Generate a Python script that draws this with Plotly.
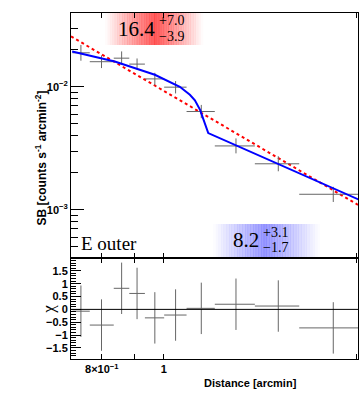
import numpy as np
import plotly.graph_objects as go

# surface brightness profile, E outer sector
dist = [0.742, 0.799, 0.859, 0.908, 0.968, 1.043, 1.144, 1.296, 1.509, 1.839]
bin_lo = [0.720, 0.766, 0.835, 0.883, 0.934, 1.001, 1.085, 1.201, 1.387, 1.627]
bin_hi = [0.766, 0.835, 0.883, 0.934, 1.001, 1.085, 1.201, 1.387, 1.627, 2.080]
sb = [0.0189, 0.0160, 0.0171, 0.0153, 0.0116, 0.00994, 0.0063, 0.00331, 0.00237, 0.00134]
sb_up = [0.0030, 0.0020, 0.0023, 0.0017, 0.0014, 0.0012, 0.00083, 0.00050, 0.00036, 0.00020]
sb_dn = [0.0026, 0.0018, 0.0020, 0.0015, 0.0013, 0.0011, 0.00074, 0.00043, 0.00031, 0.00018]
chi = [-0.07, -0.61, 0.82, 0.62, -0.33, -0.22, 0.04, 0.20, 0.13, -0.72]
chi_err = [1, 1, 1, 1, 1, 1, 1, 1, 1, 1]

# models
pl_x = [0.716, 2.01]
pl_y = [0.0257, 0.00110]
bk_x = [0.719, 0.838, 0.968, 1.022, 1.059, 1.098, 1.118, 1.139, 1.159, 1.173, 2.018]
bk_y = [0.01937, 0.01607, 0.01253, 0.01083, 0.0100, 0.00861, 0.00777, 0.00650, 0.00510, 0.00421, 0.00121]

xerr_p = [h - c for h, c in zip(bin_hi, dist)]
xerr_m = [c - l for c, l in zip(dist, bin_lo)]

pt_col = "#666666"
fig = go.Figure()
fig.add_trace(go.Scatter(x=pl_x, y=pl_y, mode="lines", line=dict(color="red", width=2, dash="dot"),
                         xaxis="x", yaxis="y"))
fig.add_trace(go.Scatter(x=dist, y=sb, mode="markers", marker=dict(size=0.1, color=pt_col),
                         error_x=dict(type="data", array=xerr_p, arrayminus=xerr_m, width=0, thickness=1, color=pt_col),
                         error_y=dict(type="data", array=sb_up, arrayminus=sb_dn, width=0, thickness=1, color=pt_col),
                         xaxis="x", yaxis="y"))
fig.add_trace(go.Scatter(x=bk_x, y=bk_y, mode="lines", line=dict(color="blue", width=2),
                         xaxis="x", yaxis="y"))
fig.add_trace(go.Scatter(x=dist, y=chi, mode="markers", marker=dict(size=0.1, color=pt_col),
                         error_x=dict(type="data", array=xerr_p, arrayminus=xerr_m, width=0, thickness=1, color=pt_col),
                         error_y=dict(type="data", array=chi_err, width=0, thickness=1, color=pt_col),
                         xaxis="x2", yaxis="y2"))

xr = [np.log10(0.716), np.log10(2.01)]
tf = dict(family="Liberation Sans", size=11, color="black", weight="bold")
split = 0.292

common_x = dict(type="log", range=xr, showline=True, linecolor="black", linewidth=1, mirror="allticks",
                ticks="inside", ticklen=5, tickcolor="black", tickvals=[0.8, 0.9, 1, 2], showgrid=False,
                zeroline=False, automargin=False)
shapes = [dict(type="line", xref="x2 domain", yref="y2", x0=0, x1=1, y0=0, y1=0,
               line=dict(color="black", width=1))]

# gradient label boxes
def grad_box(x0, x1, xc, y0, y1, rgb, peak, n=40):
    xs = np.linspace(x0, x1, n + 1)
    for a, b in zip(xs[:-1], xs[1:]):
        m = (a + b) / 2
        half = (xc - x0) if m < xc else (x1 - xc)
        al = peak * max(0.0, 1 - abs(m - xc) / half)
        shapes.append(dict(type="rect", xref="paper", yref="paper", x0=a, x1=b + 0.001, y0=y0, y1=y1,
                           fillcolor="rgba(%d,%d,%d,%.3f)" % (rgb + (al,)), line=dict(width=0), layer="below"))

grad_box(0.1185, 0.4599, 0.2927, 0.9075, 1.0, (255, 0, 0), 0.65)
grad_box(0.4948, 0.8676, 0.676, 0.2919, 0.3902, (0, 0, 255), 0.4)

serif = "Liberation Serif"
ann = [
    dict(x=0.2997, y=0.954, text="16.4", xanchor="right", font=dict(family=serif, size=21)),
    dict(x=0.2997, y=0.9769, text="+7.0", xanchor="left", font=dict(family=serif, size=14)),
    dict(x=0.2997, y=0.9335, text="\u22123.9", xanchor="left", font=dict(family=serif, size=14)),
    dict(x=0.662, y=0.3435, text="8.2", xanchor="right", font=dict(family=serif, size=21)),
    dict(x=0.662, y=0.3656, text="+3.1", xanchor="left", font=dict(family=serif, size=14)),
    dict(x=0.662, y=0.3222, text="\u22121.7", xanchor="left", font=dict(family=serif, size=14)),
    dict(x=0.028, y=0.335, text="E outer", xanchor="left", font=dict(family=serif, size=19)),
    dict(x=0.624, y=-0.069, text="Distance [arcmin]", xanchor="center",
         font=dict(family="Liberation Sans", size=11, weight="bold")),
    dict(x=-0.139, y=0.58, text="SB [counts s<sup>-1</sup> arcmin<sup>-2</sup>]", textangle=-90,
         font=dict(family="Liberation Sans", size=12, weight="bold")),
    dict(x=-0.118, y=0.144, text="\u03c7", textangle=-90, font=dict(family=serif, size=17)),
]
for a in ann:
    a.update(xref="paper", yref="paper", yanchor=a.get("yanchor", "middle"), showarrow=False)
    a["font"].setdefault("color", "black")

minor_sb = [k * 1e-4 for k in range(5, 10)] + [k * 1e-3 for k in range(2, 10)] + [0.02, 0.03]

fig.update_layout(
    width=359, height=397, margin=dict(l=71, r=1, t=13, b=38, autoexpand=False),
    paper_bgcolor="white", plot_bgcolor="white", showlegend=False,
    xaxis=dict(common_x, anchor="y", showticklabels=False),
    yaxis=dict(type="log", domain=[split, 1], anchor="x", automargin=False,
               range=[np.log10(4.07e-4), np.log10(0.0398)],
               showline=True, linecolor="black", mirror=True, ticks="inside", ticklen=13, tickcolor="black",
               tickvals=[1e-3, 1e-2], ticktext=["10<sup>\u22123</sup>", "10<sup>\u22122</sup>"], tickfont=tf,
               minor=dict(tickvals=minor_sb, ticks="inside", ticklen=7, tickcolor="black", showgrid=False),
               showgrid=False, zeroline=False),
    xaxis2=dict(common_x, anchor="y2", ticktext=["8\u00d710<sup>\u22121</sup>", "", "1", "2"], tickfont=tf),
    yaxis2=dict(domain=[0, split], anchor="x2", range=[-1.93, 2.0], automargin=False,
                showline=True, linecolor="black", mirror=True, ticks="inside", ticklen=10, tickcolor="black",
                tickvals=[-1.5, -1, -0.5, 0, 0.5, 1, 1.5],
                ticktext=["\u22121.5", "\u22121", "\u22120.5", "0", "0.5", "1", "1.5"], tickfont=tf,
                minor=dict(dtick=0.1, tick0=0, ticks="inside", ticklen=5, tickcolor="black", showgrid=False),
                showgrid=False, zeroline=False),
    shapes=shapes, annotations=ann,
)

fig.write_html("out.html", config={"displayModeBar": False},
               post_script="document.body.style.margin = '0';")
